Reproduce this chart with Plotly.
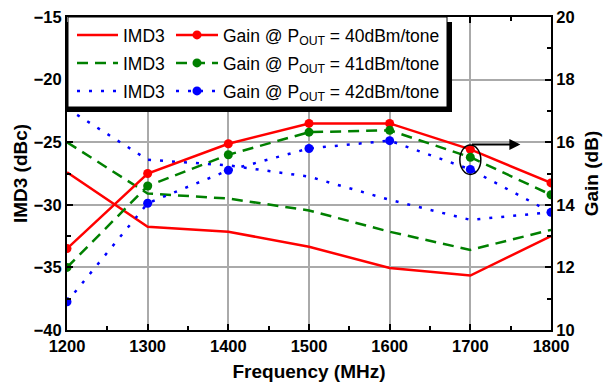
import plotly.graph_objects as go

# Frequency sweep (MHz)
freq = [1200, 1300, 1400, 1500, 1600, 1700, 1800]

# IMD3 (dBc) at three output power levels
imd3_40 = [-27.4, -31.75, -32.15, -33.35, -35.05, -35.65, -32.5]
imd3_41 = [-25.0, -29.1, -29.5, -30.45, -32.15, -33.6, -32.0]
imd3_42 = [-22.3, -26.4, -26.85, -27.75, -29.6, -31.2, -30.6]

# Gain (dB) at the same output power levels
gain_40 = [12.6, 15.0, 15.95, 16.6, 16.6, 15.77, 14.7]
gain_41 = [12.0, 14.6, 15.6, 16.32, 16.38, 15.52, 14.32]
gain_42 = [10.9, 14.05, 15.1, 15.8, 16.05, 15.13, 13.76]

imd3_name = "IMD3"
gain_names = [
    "Gain @ P<sub>OUT</sub> = 40dBm/tone",
    "Gain @ P<sub>OUT</sub> = 41dBm/tone",
    "Gain @ P<sub>OUT</sub> = 42dBm/tone",
]

FONT = "Liberation Sans, Arial, sans-serif"
RED, GREEN, BLUE = "#ff0000", "#008000", "#0000ff"

# plot area in pixels (for paper-coordinate placement)
W, H = 604, 383
L, R, T, B = 67, 53, 17, 53
PW, PH = W - L - R, H - T - B


def px(x):
    return (x - L) / PW


def py(y):
    return (H - B - y) / PH


styles = [
    dict(color=RED, width=2.5, dash="solid"),
    dict(color=GREEN, width=2.5, dash="11px,7px"),
    dict(color=BLUE, width=2.5, dash="3px,9px"),
]

fig = go.Figure()
imd3_sets = [imd3_40, imd3_41, imd3_42]
gain_sets = [gain_40, gain_41, gain_42]
for i in range(3):
    fig.add_trace(go.Scatter(
        x=freq, y=imd3_sets[i], mode="lines", name=imd3_name,
        line=styles[i], yaxis="y", legend="legend" if i == 0 else f"legend{2 * i + 1}",
    ))
    fig.add_trace(go.Scatter(
        x=freq, y=gain_sets[i], mode="lines+markers", name=gain_names[i],
        line=styles[i], marker=dict(size=9, color=styles[i]["color"]),
        yaxis="y2", legend=f"legend{2 * i + 2}",
    ))

row_y = [35, 63, 91]
legends = {}
for i in range(3):
    k1 = "legend" if i == 0 else f"legend{2 * i + 1}"
    k2 = f"legend{2 * i + 2}"
    common = dict(bgcolor="rgba(0,0,0,0)", borderwidth=0, yanchor="middle",
                  xanchor="left", font=dict(family=FONT, size=17.5, color="black"))
    legends[k1] = dict(common, x=px(72), y=py(row_y[i]), itemwidth=41)
    legends[k2] = dict(common, x=px(171), y=py(row_y[i]), itemwidth=42)

tickfont = dict(family=FONT, size=16.5, color="black", weight="bold")
titlefont = dict(family=FONT, size=19, color="black", weight="bold")
grid = dict(showgrid=True, gridcolor="#aaaaaa", gridwidth=1.5, zeroline=False)

fig.update_layout(
    width=W, height=H,
    margin=dict(l=L, r=R, t=T, b=B, autoexpand=False),
    paper_bgcolor="white", plot_bgcolor="white",
    showlegend=True,
    **legends,
    xaxis=dict(
        range=[1200, 1800], dtick=100, tick0=1200, **grid,
        showline=True, linecolor="black", linewidth=2, mirror="ticks",
        ticks="inside", ticklen=6, tickwidth=2, tickcolor="black",
        minor=dict(ticks="inside", dtick=50, ticklen=4, tickwidth=1.5, tickcolor="black", showgrid=False),
        tickfont=tickfont,
        title=dict(text="Frequency (MHz)", font=titlefont, standoff=11),
    ),
    yaxis=dict(
        range=[-40, -15], dtick=5, tick0=-40, **grid,
        showline=True, linecolor="black", linewidth=2,
        ticks="inside", ticklen=6, tickwidth=2, tickcolor="black",
        minor=dict(ticks="inside", dtick=2.5, ticklen=4, tickwidth=1.5, tickcolor="black", showgrid=False),
        tickfont=tickfont,
        title=dict(text="IMD3 (dBc)", font=titlefont, standoff=1),
    ),
    yaxis2=dict(
        range=[10, 20], dtick=2, tick0=10, overlaying="y", side="right",
        showgrid=False, zeroline=False,
        showline=True, linecolor="black", linewidth=2,
        ticks="inside", ticklen=6, tickwidth=2, tickcolor="black",
        minor=dict(ticks="inside", dtick=1, ticklen=4, tickwidth=1.5, tickcolor="black", showgrid=False),
        tickfont=tickfont,
        title=dict(text="Gain (dB)", font=titlefont, standoff=10),
    ),
    shapes=[
        # legend frame with drop shadow
        dict(type="rect", xref="paper", yref="paper", layer="above",
             x0=px(67), x1=px(452), y0=py(112), y1=py(22),
             fillcolor="black", line=dict(width=0)),
        dict(type="rect", xref="paper", yref="paper", layer="above",
             x0=px(68), x1=px(447), y0=py(107), y1=py(17),
             fillcolor="white", line=dict(color="black", width=1)),
        # ellipse marking the 1700 MHz gain points
        dict(type="circle", xref="x", yref="y2", layer="above",
             x0=1687, x1=1713, y0=14.97, y1=15.91,
             line=dict(color="black", width=1.5)),
    ],
    annotations=[
        dict(x=1762, y=15.93, xref="x", yref="y2", ax=1700, ay=15.93,
             axref="x", ayref="y2", text="", showarrow=True,
             arrowhead=2, arrowsize=1.1, arrowwidth=2, arrowcolor="black"),
    ],
)

fig.write_html("out.html")
